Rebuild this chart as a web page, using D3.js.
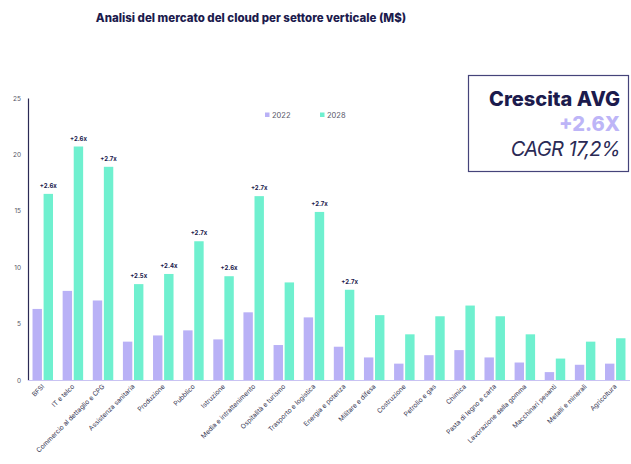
<!DOCTYPE html>
<meta charset="utf-8">
<style>
body { margin: 0; background: #fff; }
text { font-family: "Inter", "Liberation Sans", sans-serif; }
.title { font-size: 11.5px; font-weight: 800; fill: #1c1b4d; }
.ytick { font-size: 6.5px; fill: #555566; }
.xlab { font-size: 6.6px; fill: #3a3a55; }
.growth { font-size: 6px; font-weight: 700; fill: #1c1b4d; }
.legend { font-size: 7.5px; fill: #555566; }
</style>
<body>
<script src="https://cdnjs.cloudflare.com/ajax/libs/d3/7.8.5/d3.min.js"></script>
<script>

// categories, left to right
var categories = ["BFSI", "IT e telco", "Commercio al dettaglio e CPG", "Assistenza sanitaria",
    "Produzione", "Pubblico", "Istruzione", "Media e intrattenimento", "Ospitalità e turismo",
    "Trasporto e logistica", "Energia e potenza", "Militare e difesa", "Costruzione",
    "Petrolio e gas", "Chimica", "Pasta di legno e carta", "Lavorazione della gomma",
    "Macchinari pesanti", "Metalli e minerali", "Agricoltura"];

// values (M$)
var values2022 = [6.3, 7.9, 7.05, 3.4, 3.95, 4.4, 3.6, 6.0, 3.1, 5.55,
    2.95, 2.0, 1.45, 2.2, 2.65, 2.0, 1.55, 0.7, 1.35, 1.45];
var values2028 = [16.5, 20.7, 18.9, 8.5, 9.4, 12.3, 9.2, 16.3, 8.65, 14.9,
    8.0, 5.75, 4.05, 5.65, 6.6, 5.65, 4.05, 1.9, 3.4, 3.7];

// growth labels above the 2028 bars (empty = none)
var growthLabels = ["+2.6x", "+2.6x", "+2.7x", "+2.5x", "+2.4x", "+2.7x", "+2.6x", "+2.7x", "",
    "+2.7x", "+2.7x", "", "", "", "", "", "", "", "", ""];

var series = ["2022", "2028"];
var yTicks = [0, 5, 10, 15, 20, 25];

var colors = { "2022": "#b9b1f6", "2028": "#6ff0cf" };

var W = 631, H = 464;
var svg = d3.select("body").append("svg").attr("width", W).attr("height", H);

// title
svg.append("text").attr("class", "title")
    .attr("x", 251).attr("y", 22)
    .attr("text-anchor", "middle")
    .text("Analisi del mercato del cloud per settore verticale (M$)");

var x0 = d3.scaleBand().domain(categories).range([28, 630]).paddingInner(0.32).paddingOuter(0.15);
var x1 = d3.scaleBand().domain(series).range([0, x0.bandwidth()]).paddingInner(0.15);
var y = d3.scaleLinear().domain([0, 25]).range([380, 98]);

// y axis
var yAxis = d3.axisLeft(y).tickValues(yTicks).tickSize(0).tickPadding(7);
var gy = svg.append("g").attr("transform", "translate(28,0)").call(yAxis);
gy.select(".domain").attr("stroke", "#2b2a55").attr("stroke-width", 1.2);
gy.selectAll("text").attr("class", "ytick").attr("font-family", null).attr("font-size", null).attr("fill", null);

var rows = categories.map(function (c, i) {
    return { cat: c, v: [values2022[i], values2028[i]], g: growthLabels[i] };
});

var groups = svg.selectAll("g.cat").data(rows).enter().append("g")
    .attr("class", "cat")
    .attr("transform", function (d) { return "translate(" + x0(d.cat) + ",0)"; });

groups.selectAll("rect").data(function (d) {
    return series.map(function (s, k) { return { s: s, v: d.v[k] }; });
}).enter().append("rect")
    .attr("x", function (d) { return x1(d.s); })
    .attr("y", function (d) { return y(d.v); })
    .attr("width", x1.bandwidth())
    .attr("height", function (d) { return y(0) - y(d.v); })
    .attr("fill", function (d) { return colors[d.s]; });

groups.append("text").attr("class", "growth")
    .attr("x", x1("2028") + x1.bandwidth() / 2)
    .attr("y", function (d) { return y(d.v[1]) - 6; })
    .attr("text-anchor", "middle")
    .text(function (d) { return d.g; });

// x axis baseline
svg.append("line")
    .attr("x1", 28).attr("x2", 630)
    .attr("y1", y(0) + 0.5).attr("y2", y(0) + 0.5)
    .attr("stroke", "#c9c3f3").attr("stroke-width", 1.2);

// category labels, rotated
svg.selectAll("text.xlab").data(categories).enter().append("text")
    .attr("class", "xlab")
    .attr("text-anchor", "end")
    .attr("transform", function (d) {
        return "translate(" + (x0(d) + x0.bandwidth() / 2 + 2) + ",387) rotate(-45)";
    })
    .text(function (d) { return d; });

// legend
var leg = svg.append("g");
var legX = [265, 320];
series.forEach(function (s, i) {
    leg.append("rect").attr("x", legX[i]).attr("y", 112.5).attr("width", 4.5).attr("height", 4.5)
        .attr("fill", colors[s]);
    leg.append("text").attr("class", "legend").attr("x", legX[i] + 7).attr("y", 117.5).text(s);
});

// summary box
svg.append("rect").attr("x", 468.5).attr("y", 75.5).attr("width", 160).attr("height", 96)
    .attr("fill", "none").attr("stroke", "#45447a").attr("stroke-width", 1.2);
svg.append("text").attr("x", 620).attr("y", 106).attr("text-anchor", "end")
    .attr("font-size", "20px").attr("font-weight", 800).attr("fill", "#1c1b4d")
    .text("Crescita AVG");
svg.append("text").attr("x", 620).attr("y", 131).attr("text-anchor", "end")
    .attr("font-size", "20px").attr("font-weight", 800).attr("fill", "#bdb5f7")
    .text("+2.6X");
svg.append("text").attr("x", 620).attr("y", 156).attr("text-anchor", "end")
    .attr("font-size", "20px").attr("font-style", "italic").attr("fill", "#2b2a55")
    .attr("letter-spacing", "-0.6px")
    .text("CAGR 17,2%");

</script>
</body>
